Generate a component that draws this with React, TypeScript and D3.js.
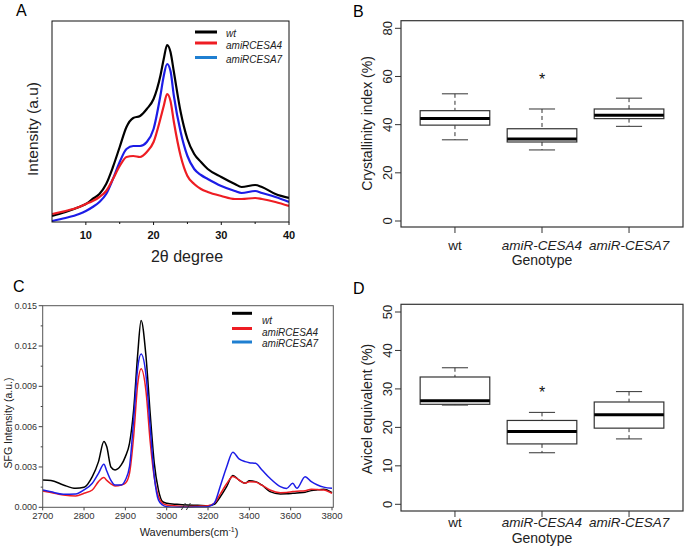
import React from 'react';
import * as d3 from 'd3';

// ---------- Panel A (XRD) ----------
const xrdAngle = [5, 7, 9, 10, 11, 12, 13, 14, 15, 16, 17, 18, 19, 20, 21, 21.5, 22, 22.5, 23, 24, 25, 26, 27, 28, 30, 32, 33, 35, 36, 38, 40];
const xrdWt = [6, 10, 15, 18, 23, 28, 38, 55, 75, 95, 104, 106, 113, 123, 146, 163, 177, 170, 150, 110, 83, 68, 60, 53, 45, 38, 35, 37, 35, 28, 24];
const xrdCesa4 = [8, 11, 15, 18, 21, 25, 31, 43, 56, 65, 66, 65, 70, 80, 103, 116, 128, 121, 100, 66, 46, 38, 33, 30, 26, 23, 23, 24, 23, 20, 16];
const xrdCesa7 = [1, 4, 8, 11, 15, 20, 28, 43, 60, 73, 76, 76, 80, 93, 126, 146, 158, 151, 126, 90, 66, 53, 47, 43, 36, 31, 29, 31, 29, 25, 20];
const xrdTicks = [10, 20, 30, 40];
const xrdMinorTicks = [15, 25, 35];

// ---------- Panel C (SFG) ----------
const sfgWavenumber = [2700, 2720, 2750, 2780, 2800, 2820, 2835, 2848, 2855, 2865, 2875, 2890, 2900, 2910, 2920, 2930, 2938, 2950, 2960, 2970, 2980, 2990, 3000, 3050, 3100, 3150, 3200, 3230, 3260, 3290, 3320, 3350, 3380, 3400, 3430, 3460, 3500, 3550, 3580, 3610, 3630, 3670, 3700, 3730, 3760, 3800];
// values in units of 1e-3
const sfgWt = [2.03, 2.0, 1.66, 1.41, 1.49, 2.28, 3.4, 4.9, 4.5, 3.0, 2.78, 3.15, 3.77, 4.76, 7.24, 11.45, 13.9, 11.2, 7.0, 3.27, 1.29, 0.42, 0.3, 0.22, 0.17, 0.15, 0.12, 0.22, 0.8, 1.54, 2.36, 2.03, 1.79, 1.98, 1.91, 1.66, 1.17, 0.99, 1.0, 1.04, 1.07, 1.12, 1.24, 1.3, 1.34, 1.09];
const sfgCesa4 = [1.21, 1.1, 0.92, 0.84, 1.04, 1.29, 1.91, 2.21, 2.0, 1.75, 1.59, 1.66, 1.79, 2.53, 5.26, 9.2, 10.3, 8.6, 4.9, 2.2, 0.8, 0.3, 0.17, 0.1, 0.05, 0.08, 0.12, 0.3, 1.0, 1.75, 2.3, 2.03, 1.79, 1.91, 1.88, 1.65, 1.29, 1.09, 1.1, 1.17, 1.2, 1.24, 1.34, 1.32, 1.29, 1.04];
const sfgCesa7 = [1.29, 1.15, 0.97, 0.99, 1.29, 1.79, 2.53, 3.2, 2.7, 2.0, 1.66, 1.66, 2.03, 3.02, 6.5, 10.4, 11.4, 9.8, 6.0, 2.28, 0.55, 0.17, 0.05, 0.0, 0.0, 0.02, 0.05, 0.3, 1.6, 3.0, 4.1, 3.6, 3.4, 3.32, 3.27, 2.8, 2.16, 1.54, 1.4, 1.79, 1.41, 2.28, 1.91, 1.66, 1.5, 1.41];
const sfgYTicks = [0, 0.003, 0.006, 0.009, 0.012, 0.015];
const sfgYMinor = [0.0015, 0.0045, 0.0075, 0.0105, 0.0135];
const sfgXTicks = [2700, 2800, 2900, 3000, 3200, 3400, 3600, 3800];

// ---------- Panels B & D (box plots) ----------
const genotypes = ['wt', 'amiR-CESA4', 'amiR-CESA7'];
const genotypeItalic = [false, true, true];
const crystLow = [33.7, 29.5, 39.3];
const crystQ1 = [39.8, 32.8, 42.5];
const crystMed = [42.6, 34.0, 43.9];
const crystQ3 = [45.8, 38.3, 46.5];
const crystHigh = [52.8, 46.5, 51.0];
const crystStar = [null, 60, null];
const crystTicks = [0, 20, 40, 60, 80];

const avicelLow = [25.8, 13.4, 17.0];
const avicelQ1 = [26.0, 15.7, 19.8];
const avicelMed = [26.9, 18.9, 23.3];
const avicelQ3 = [33.1, 21.8, 26.6];
const avicelHigh = [35.5, 23.9, 29.3];
const avicelStar = [null, 30, null];
const avicelTicks = [0, 10, 20, 30, 40, 50];

const legendNames = ['wt', 'amiRCESA4', 'amiRCESA7'];
const curveColors = ['#000000', '#ee1d23', '#1c1ce6'];
const legendColors = ['#000000', '#ee1d23', '#1f7fd1'];

const FONT = '"Liberation Sans", Arial, Helvetica, sans-serif';

function PanelA() {
  const L = 52, R = 289, T = 21, B = 222;
  const x = d3.scaleLinear().domain([5, 40]).range([L, R]);
  const y = d3.scaleLinear().domain([0, 200]).range([B, T + 1]);
  const mk = (vals: number[]) =>
    d3.line<number>().x((_, i) => x(xrdAngle[i])).y(d => y(d)).curve(d3.curveMonotoneX)(vals) || '';
  const series = [
    { v: xrdWt, c: curveColors[0] },
    { v: xrdCesa7, c: curveColors[2] },
    { v: xrdCesa4, c: curveColors[1] },
  ];
  const legY = [32, 43, 57.5];
  const legTY = [33.5, 45.5, 59];
  return (
    <g fontFamily={FONT}>
      <text x={16} y={16} fontSize={16}>A</text>
      <defs>
        <clipPath id="clipA"><rect x={L} y={T} width={R - L} height={B - T} /></clipPath>
      </defs>
      <g clipPath="url(#clipA)">
        {series.map((s, i) => (
          <path key={i} d={mk(s.v)} fill="none" stroke={s.c} strokeWidth={2.2} strokeLinejoin="round" />
        ))}
      </g>
      <rect x={L} y={T} width={R - L} height={B - T} fill="none" stroke="#111" strokeWidth={1} />
      {xrdTicks.map(t => (
        <g key={t}>
          <line x1={x(t)} x2={x(t)} y1={B} y2={B + 3} stroke="#111" />
          <text x={x(t)} y={239} fontSize={11} fontWeight="bold" textAnchor="middle" fill="#111">{t}</text>
        </g>
      ))}
      {xrdMinorTicks.map(t => (
        <line key={t} x1={x(t)} x2={x(t)} y1={B} y2={B + 2} stroke="#111" />
      ))}
      <text x={187} y={262} fontSize={16} textAnchor="middle" fill="#222">2θ degree</text>
      <text transform="translate(38,129) rotate(-90)" fontSize={15.5} textAnchor="middle" fill="#222">Intensity (a.u)</text>
      {legendNames.map((n, i) => (
        <g key={n}>
          <line x1={195} x2={217} y1={legY[i]} y2={legY[i]} stroke={legendColors[i]} strokeWidth={3} />
          <text x={226} y={legTY[i]} fontSize={10} fontStyle="italic" dominantBaseline="central" fill="#222">{n}</text>
        </g>
      ))}
    </g>
  );
}

function PanelC() {
  const L = 42.7, R = 333.3, T = 305.7, B = 507.3;
  const x = d3.scaleLinear().domain([2700, 3000, 3800]).range([L, 166.7, 332]);
  const y = d3.scaleLinear().domain([0, 0.015]).range([B, T]);
  const mk = (vals: number[]) =>
    d3.line<number>().x((_, i) => x(sfgWavenumber[i])).y(d => y(d / 1000)).curve(d3.curveMonotoneX)(vals) || '';
  const series = [
    { v: sfgWt, c: curveColors[0] },
    { v: sfgCesa4, c: curveColors[1] },
    { v: sfgCesa7, c: curveColors[2] },
  ];
  const legY = [313.3, 328.5, 342];
  const legTY = [320, 332, 343.5];
  const bx = x(3100);
  return (
    <g fontFamily={FONT}>
      <text x={13} y={292} fontSize={16}>C</text>
      <defs>
        <clipPath id="clipC"><rect x={L} y={T} width={R - L} height={B - T + 2} /></clipPath>
      </defs>
      <g clipPath="url(#clipC)">
        {series.map((s, i) => (
          <path key={i} d={mk(s.v)} fill="none" stroke={s.c} strokeWidth={1.5} strokeLinejoin="round" />
        ))}
      </g>
      <rect x={L} y={T} width={R - L} height={B - T} fill="none" stroke="#555" strokeWidth={1} />
      {sfgYTicks.map(t => (
        <g key={t}>
          <line x1={L - 4} x2={L} y1={y(t)} y2={y(t)} stroke="#444" />
          <text x={37} y={y(t)} fontSize={9} textAnchor="end" dominantBaseline="central" fill="#333">{t.toFixed(3)}</text>
        </g>
      ))}
      {sfgYMinor.map(t => (
        <line key={t} x1={L - 2} x2={L} y1={y(t)} y2={y(t)} stroke="#444" />
      ))}
      {sfgXTicks.map(t => (
        <g key={t}>
          <line x1={x(t)} x2={x(t)} y1={B} y2={B + 3} stroke="#444" />
          <text x={x(t)} y={518.5} fontSize={9.5} textAnchor="middle" fill="#333">{t}</text>
        </g>
      ))}
      <line x1={bx - 6} y1={510} x2={bx - 2} y2={503} stroke="#333" strokeWidth={1} />
      <line x1={bx - 1} y1={510} x2={bx + 3} y2={503} stroke="#333" strokeWidth={1} />
      <text x={189} y={535.5} fontSize={11} textAnchor="middle" fill="#222">
        Wavenumbers(cm<tspan dy={-4} fontSize={7}>-1</tspan><tspan dy={4}>)</tspan>
      </text>
      <text transform="translate(8,423) rotate(-90)" fontSize={10.5} textAnchor="middle" dominantBaseline="central" fill="#222">SFG Intensity (a.u.)</text>
      {legendNames.map((n, i) => (
        <g key={n}>
          <line x1={232} x2={252} y1={legY[i]} y2={legY[i]} stroke={legendColors[i]} strokeWidth={3} />
          <text x={262} y={legTY[i]} fontSize={10} fontStyle="italic" dominantBaseline="central" fill="#222">{n}</text>
        </g>
      ))}
    </g>
  );
}

type BoxProps = {
  letter: string; letterY: number;
  T: number; B: number; y0: number; yTop: number; domainTop: number;
  ticks: number[];
  low: number[]; q1: number[]; med: number[]; q3: number[]; high: number[]; star: (number | null)[];
  yLabel: string; labelCY: number; catY: number; titleY: number;
};

function BoxPanel(p: BoxProps) {
  const L = 401, R = 683;
  const x = d3.scaleLinear().domain([0.38, 3.62]).range([L, R]);
  const y = d3.scaleLinear().domain([0, p.domainTop]).range([p.y0, p.yTop]);
  const hw = 0.4, cw = 0.15;
  const stroke = '#333';
  return (
    <g fontFamily={FONT}>
      <text x={353} y={p.letterY} fontSize={16}>{p.letter}</text>
      <rect x={L} y={p.T} width={R - L} height={p.B - p.T} fill="none" stroke={stroke} strokeWidth={1.2} />
      {p.ticks.map(t => (
        <g key={t}>
          <line x1={L - 6} x2={L} y1={y(t)} y2={y(t)} stroke={stroke} />
          <text transform={`translate(387.5,${y(t)}) rotate(-90)`} fontSize={13} textAnchor="middle" dominantBaseline="central" fill="#222">{t}</text>
        </g>
      ))}
      {genotypes.map((g, i) => {
        const c = i + 1;
        return (
          <g key={g}>
            <line x1={x(c)} x2={x(c)} y1={p.B} y2={p.B + 6} stroke={stroke} />
            <text x={x(c)} y={p.catY} fontSize={13.5} textAnchor="middle" fontStyle={genotypeItalic[i] ? 'italic' : 'normal'} fill="#222">{g}</text>
            <line x1={x(c)} x2={x(c)} y1={y(p.high[i])} y2={y(p.q3[i])} stroke={stroke} strokeDasharray="4,3" />
            <line x1={x(c)} x2={x(c)} y1={y(p.q1[i])} y2={y(p.low[i])} stroke={stroke} strokeDasharray="4,3" />
            <line x1={x(c - cw)} x2={x(c + cw)} y1={y(p.high[i])} y2={y(p.high[i])} stroke={stroke} />
            <line x1={x(c - cw)} x2={x(c + cw)} y1={y(p.low[i])} y2={y(p.low[i])} stroke={stroke} />
            <rect x={x(c - hw)} y={y(p.q3[i])} width={x(c + hw) - x(c - hw)} height={y(p.q1[i]) - y(p.q3[i])} fill="white" stroke={stroke} strokeWidth={1.2} />
            <line x1={x(c - hw)} x2={x(c + hw)} y1={y(p.med[i])} y2={y(p.med[i])} stroke="#000" strokeWidth={3} />
            {p.star[i] != null && (
              <text x={x(c)} y={y(p.star[i] as number) + 9} fontSize={16} textAnchor="middle" fill="#111">*</text>
            )}
          </g>
        );
      })}
      <text x={x(2)} y={p.titleY} fontSize={14} textAnchor="middle" fill="#222">Genotype</text>
      <text transform={`translate(367,${p.labelCY}) rotate(-90)`} fontSize={14} textAnchor="middle" dominantBaseline="central" fill="#222">{p.yLabel}</text>
    </g>
  );
}

export default function App() {
  return (
    <svg width={685} height={547} style={{ position: 'absolute', left: 0, top: 0, background: '#fff' }}>
      <rect x={0} y={0} width={685} height={547} fill="#fff" />
      <PanelA />
      <BoxPanel letter="B" letterY={17} T={20.7} B={227} y0={221} yTop={28.3} domainTop={80} ticks={crystTicks}
        low={crystLow} q1={crystQ1} med={crystMed} q3={crystQ3} high={crystHigh} star={crystStar}
        yLabel="Crystallinity index (%)" labelCY={123.5} catY={250} titleY={265} />
      <PanelC />
      <BoxPanel letter="D" letterY={294} T={304.3} B={511} y0={504.3} yTop={312} domainTop={50} ticks={avicelTicks}
        low={avicelLow} q1={avicelQ1} med={avicelMed} q3={avicelQ3} high={avicelHigh} star={avicelStar}
        yLabel="Avicel equivalent (%)" labelCY={409} catY={526.5} titleY={543} />
    </svg>
  );
}
